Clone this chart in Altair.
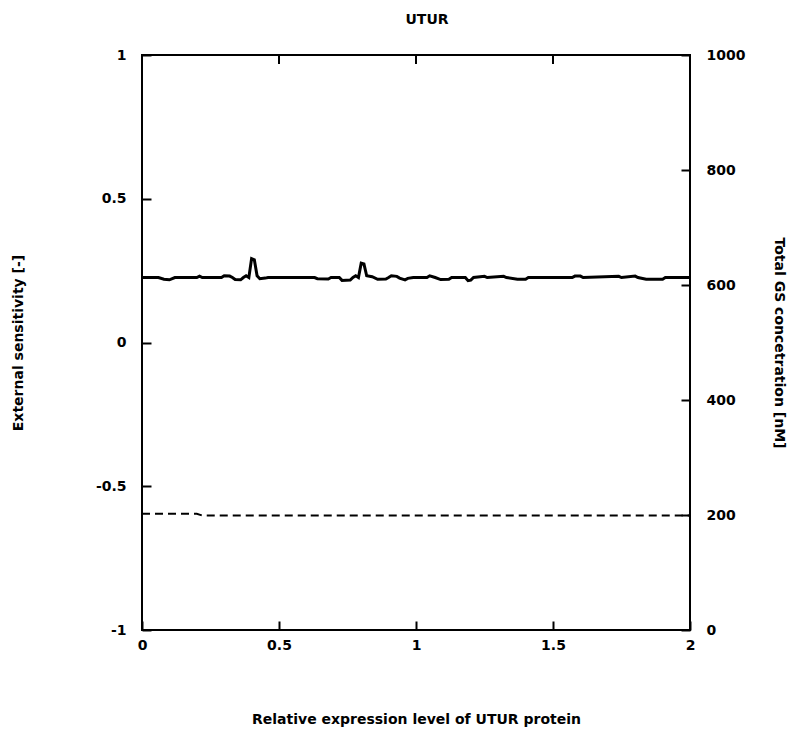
import altair as alt
import pandas as pd

# Solid line: external sensitivity (left axis)
sens_x = [0.00, 0.06, 0.08, 0.10, 0.12, 0.20, 0.21, 0.22, 0.29, 0.30, 0.32, 0.33, 0.34, 0.36,
          0.37, 0.38, 0.39, 0.40, 0.41, 0.42, 0.43, 0.45, 0.46, 0.63, 0.64, 0.68, 0.69, 0.72,
          0.73, 0.76, 0.77, 0.78, 0.79, 0.80, 0.81, 0.82, 0.84, 0.86, 0.89, 0.90, 0.91, 0.93,
          0.94, 0.96, 0.97, 0.99, 1.00, 1.04, 1.05, 1.07, 1.09, 1.12, 1.13, 1.18, 1.19, 1.20,
          1.21, 1.25, 1.26, 1.32, 1.33, 1.37, 1.40, 1.41, 1.57, 1.58, 1.60, 1.61, 1.74, 1.75,
          1.80, 1.81, 1.84, 1.90, 1.91, 2.00]
sens_y = [0.226, 0.226, 0.220, 0.218, 0.226, 0.226, 0.231, 0.226, 0.226, 0.232, 0.231, 0.226,
          0.219, 0.218, 0.226, 0.232, 0.226, 0.292, 0.288, 0.232, 0.222, 0.224, 0.226, 0.226,
          0.222, 0.221, 0.226, 0.226, 0.216, 0.217, 0.226, 0.232, 0.226, 0.276, 0.273, 0.232,
          0.229, 0.220, 0.221, 0.226, 0.232, 0.230, 0.224, 0.218, 0.223, 0.226, 0.226, 0.226,
          0.232, 0.226, 0.219, 0.220, 0.226, 0.226, 0.215, 0.217, 0.226, 0.230, 0.226, 0.230,
          0.226, 0.220, 0.220, 0.226, 0.226, 0.231, 0.231, 0.226, 0.230, 0.226, 0.231, 0.226,
          0.220, 0.220, 0.226, 0.226]

# Dashed line: total GS concentration (right axis)
gs_x = [0.00, 0.20, 0.22, 1.00, 2.00]
gs_y = [202, 202, 199, 199, 199]

x_ticks = [0, 0.5, 1, 1.5, 2]
x_inner_ticks = [0.5, 1, 1.5]
left_ticks = [-1, -0.5, 0, 0.5, 1]
right_ticks = [0, 200, 400, 600, 800, 1000]

sens_df = pd.DataFrame({"x": sens_x, "y": sens_y})
gs_df = pd.DataFrame({"x": gs_x, "y": gs_y})
top_df = pd.DataFrame({"x": x_inner_ticks})

FONT = "DejaVu Sans"

x_axis = alt.Axis(values=x_ticks, orient="bottom", offset=-9, domain=False, tickSize=9,
                  tickWidth=2, tickColor="black", labelPadding=8, labelFlush=False,
                  labelExpr="'' + datum.value",
                  title="Relative expression level of UTUR protein", titlePadding=60)
x_scale = alt.Scale(domain=[0, 2], nice=False, zero=False)

solid = alt.Chart(sens_df).mark_line(color="black", strokeWidth=3).encode(
    x=alt.X("x:Q", scale=x_scale, axis=x_axis),
    y=alt.Y("y:Q", scale=alt.Scale(domain=[-1, 1], nice=False, zero=False),
            axis=alt.Axis(values=left_ticks, orient="left", offset=-9, domain=False,
                          tickSize=9, tickWidth=2, tickColor="black", labelPadding=16,
                          labelFlush=False, labelExpr="'' + datum.value",
                          title="External sensitivity [-]", titlePadding=70)),
)

top_ticks = alt.Chart(top_df).mark_rule(color="black", strokeWidth=2).encode(
    x=alt.X("x:Q", scale=x_scale, axis=x_axis),
    y=alt.value(0),
    y2=alt.value(9),
)

dashed = alt.Chart(gs_df).mark_line(color="black", strokeWidth=2, strokeDash=[8, 5]).encode(
    x=alt.X("x:Q", scale=x_scale, axis=x_axis),
    y=alt.Y("y:Q", scale=alt.Scale(domain=[0, 1000], nice=False, zero=False),
            axis=alt.Axis(values=right_ticks, orient="right", offset=-9, domain=False,
                          tickSize=9, tickWidth=2, tickColor="black", labelPadding=16,
                          labelFlush=False, labelExpr="'' + datum.value",
                          title="Total GS concetration [nM]", titlePadding=27)),
)

chart = alt.layer(solid, top_ticks, dashed).resolve_scale(y="independent").properties(
    width=548,
    height=575,
    autosize=alt.AutoSizeParams(type="none"),
    padding={"left": 142, "top": 55, "right": 102, "bottom": 105},
    title=alt.TitleParams("UTUR", font=FONT, fontSize=14, fontWeight="bold", color="black",
                          offset=21, dx=11),
    background="white",
).configure_view(
    stroke="black", strokeWidth=2
).configure_axis(
    labelFont=FONT, labelFontSize=14, labelFontWeight="bold", labelColor="black",
    titleFont=FONT, titleFontSize=14, titleFontWeight="bold", titleColor="black",
    grid=False,
)

chart.save("out.html", embed_options={"renderer": "svg", "actions": False})
